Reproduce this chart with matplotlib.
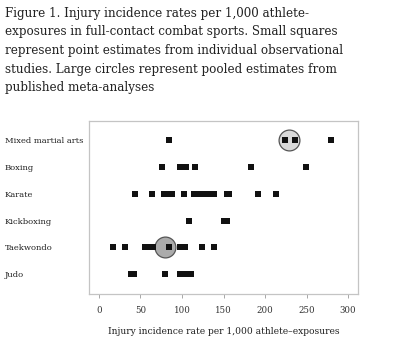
import matplotlib
matplotlib.use("Agg")
import matplotlib.pyplot as plt

sports = ["Mixed martial arts", "Boxing", "Karate", "Kickboxing", "Taekwondo", "Judo"]

# point estimates from individual studies
mma_studies = [84, 224, 236, 279]
boxing_studies = [76, 97, 105, 116, 183, 249]
karate_studies = [43, 64, 78, 82, 88, 103, 115, 121, 126, 133, 138, 154, 157, 191, 213]
kickboxing_studies = [108, 151, 154]
taekwondo_studies = [17, 31, 56, 60, 65, 84, 97, 104, 124, 138]
judo_studies = [39, 42, 80, 98, 105, 111]

# pooled estimates from meta-analyses
pooled_sports = ["Mixed martial arts", "Taekwondo"]
pooled_values = [228.5, 79]
pooled_colors = ["#d9d9d9", "#ababab"]

xticks = [0, 50, 100, 150, 200, 250, 300]

title = ("Figure 1. Injury incidence rates per 1,000 athlete-\n"
         "exposures in full-contact combat sports. Small squares\n"
         "represent point estimates from individual observational\n"
         "studies. Large circles represent pooled estimates from\n"
         "published meta-analyses")

serif = "DejaVu Serif"

fig = plt.figure(figsize=(3.93, 3.51), dpi=100)
ax = fig.add_axes([0.2265, 0.1624, 0.6845, 0.4926])

# big circles first so the squares sit on top
for name, val, col in zip(pooled_sports, pooled_values, pooled_colors):
    ax.scatter([val], [sports.index(name)], s=225, color=col,
               edgecolor="#555555", linewidth=0.9, zorder=2)

all_studies = [mma_studies, boxing_studies, karate_studies,
               kickboxing_studies, taekwondo_studies, judo_studies]
for i, vals in enumerate(all_studies):
    ax.scatter(vals, [i] * len(vals), marker="s", s=16, color="#111111",
               linewidth=0, zorder=3)

ax.set_xlim(-12, 312)
ax.set_ylim(5.75, -0.72)
ax.set_xticks(xticks)
ax.set_xticklabels([str(t) for t in xticks], fontsize=6.2, family=serif,
                   color="#333333")
ax.set_yticks(range(len(sports)))
ax.set_yticklabels(sports, fontsize=6.0, family=serif, color="#222222")
for lab in ax.get_yticklabels():
    lab.set_horizontalalignment("left")
ax.tick_params(axis="y", length=0, pad=60.5)
ax.tick_params(axis="x", length=3, width=0.6, color="#999999", pad=6)

for sp in ax.spines.values():
    sp.set_color("#c4c4c4")
    sp.set_linewidth(0.9)

ax.set_xlabel("Injury incidence rate per 1,000 athlete\u2013exposures",
              fontsize=6.6, family=serif, color="#222222", labelpad=8)

fig.text(5 / 393, 1 - 7 / 351, title, ha="left", va="top", fontsize=8.6,
         family=serif, color="#222222", linespacing=1.55)

fig.savefig("out.png", dpi=100)
